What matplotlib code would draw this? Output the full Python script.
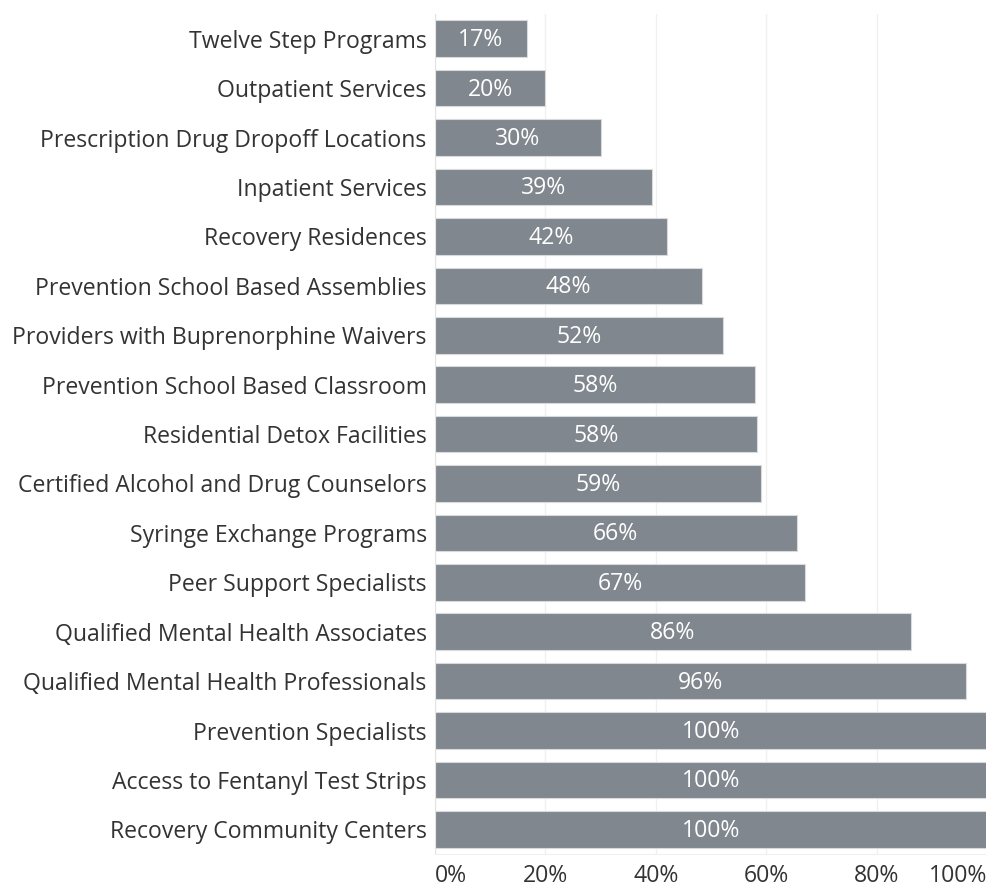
import matplotlib
matplotlib.use('Agg')
import matplotlib.pyplot as plt

categories = [
    'Twelve Step Programs',
    'Outpatient Services',
    'Prescription Drug Dropoff Locations',
    'Inpatient Services',
    'Recovery Residences',
    'Prevention School Based Assemblies',
    'Providers with Buprenorphine Waivers',
    'Prevention School Based Classroom',
    'Residential Detox Facilities',
    'Certified Alcohol and Drug Counselors',
    'Syringe Exchange Programs',
    'Peer Support Specialists',
    'Qualified Mental Health Associates',
    'Qualified Mental Health Professionals',
    'Prevention Specialists',
    'Access to Fentanyl Test Strips',
    'Recovery Community Centers',
]
values = [16.6, 20.0, 30.1, 39.4, 42.1, 48.3, 52.1, 57.9, 58.4, 59.0,
          65.5, 67.0, 86.2, 96.2, 100.0, 100.0, 100.0]
tick_values = [0, 20, 40, 60, 80, 100]
tick_labels = ['0%', '20%', '40%', '60%', '80%', '100%']

plt.rcParams['font.family'] = ['Open Sans', 'DejaVu Sans']
bar_color = '#80878e'
text_color = '#333333'
fs = 16.6

fig = plt.figure(figsize=(9.87, 8.90), dpi=100)
ax = fig.add_axes([0.4407, 0.0404, 0.5593, 0.9438])

y = list(range(len(categories)))
ax.barh(y, values, height=0.74, color=bar_color, edgecolor='#d8dadc', linewidth=0.8, zorder=2)
for yi, v in zip(y, values):
    ax.text(v / 2, yi + 0.03, f'{round(v)}%', ha='center', va='center',
            color='white', fontsize=fs, fontweight='medium', zorder=3)

ax.set_ylim(len(categories) - 0.5, -0.5)
ax.set_xlim(0, 100)
ax.set_yticks(y)
ax.set_yticklabels(categories, fontsize=fs, color=text_color)
ax.set_xticks(tick_values)
ax.set_xticklabels(tick_labels, fontsize=fs, color=text_color)
xl = ax.get_xticklabels()
xl[0].set_ha('left')
xl[-1].set_ha('right')
ax.tick_params(axis='y', length=0, pad=6)
ax.tick_params(axis='x', length=0, pad=7)

ax.grid(axis='x', color='#f0f0f0', linewidth=1, zorder=0)
for s in ['top', 'right']:
    ax.spines[s].set_visible(False)
ax.spines['left'].set_color('#e3e3e3')
ax.spines['bottom'].set_color('#f0f0f0')

fig.savefig('out.png', dpi=100)
